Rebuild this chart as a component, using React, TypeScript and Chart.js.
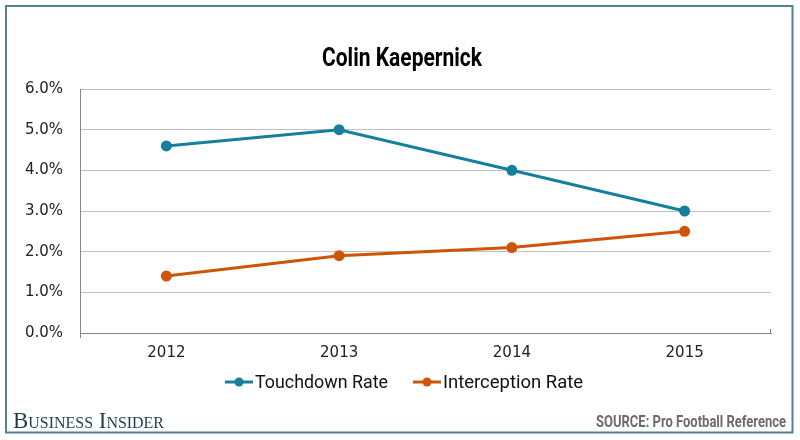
import React, { useEffect, useRef } from "react";
import { Chart, registerables } from "chart.js";

Chart.register(...registerables);

const years = ["2012", "2013", "2014", "2015"];
const touchdownRate = [4.6, 5.0, 4.0, 3.0];
const interceptionRate = [1.4, 1.9, 2.1, 2.5];
const seriesNames = ["Touchdown Rate", "Interception Rate"];
const seriesColors = ["#167f9c", "#cf5408"];
const titleText = "Colin Kaepernick";
const sourceText = "SOURCE: Pro Football Reference";
const brandText = "Business Insider";

const decorPlugin = {
  id: "decor",
  afterDraw(chart: any) {
    const ctx = chart.ctx;
    const area = chart.chartArea;
    ctx.save();
    // frame
    ctx.strokeStyle = "#557f95";
    ctx.lineWidth = 2;
    ctx.strokeRect(6, 6, 786.5, 426.5);
    // axis small ticks
    ctx.strokeStyle = "#868686";
    ctx.lineWidth = 1;
    ctx.beginPath();
    ctx.moveTo(area.left + 0.5, area.bottom);
    ctx.lineTo(area.left + 0.5, area.bottom + 5);
    ctx.moveTo(area.right - 0.5, area.bottom);
    ctx.lineTo(area.right - 0.5, area.bottom - 4);
    ctx.stroke();
    // title
    ctx.fillStyle = "#000";
    ctx.font = "bold 26px Roboto, sans-serif";
    ctx.textAlign = "center";
    ctx.textBaseline = "alphabetic";
    ctx.fillText(titleText, 402, 66, 160);
    // legend
    const legendY = 382;
    const items = [
      { x: 225, name: seriesNames[0], color: seriesColors[0], w: 133 },
      { x: 413, name: seriesNames[1], color: seriesColors[1], w: 140 },
    ];
    ctx.font = "19px Roboto, sans-serif";
    ctx.textAlign = "left";
    ctx.textBaseline = "middle";
    items.forEach((it) => {
      ctx.strokeStyle = it.color;
      ctx.lineWidth = 3;
      ctx.beginPath();
      ctx.moveTo(it.x, legendY);
      ctx.lineTo(it.x + 28, legendY);
      ctx.stroke();
      ctx.fillStyle = it.color;
      ctx.beginPath();
      ctx.arc(it.x + 14, legendY, 4.5, 0, Math.PI * 2);
      ctx.fill();
      ctx.fillStyle = "#111";
      ctx.fillText(it.name, it.x + 30, legendY + 1, it.w);
    });
    // footer brand
    ctx.fillStyle = "#1d3c52";
    ctx.font = "small-caps 23px 'Liberation Serif', serif";
    ctx.textAlign = "left";
    ctx.textBaseline = "alphabetic";
    ctx.fillText(brandText, 13, 428, 151);
    // source
    ctx.fillStyle = "#6b6b6b";
    ctx.font = "bold 16px Roboto, sans-serif";
    ctx.textAlign = "right";
    ctx.fillText(sourceText, 786, 427, 190);
    ctx.restore();
  },
};

export default function App() {
  const ref = useRef<HTMLCanvasElement | null>(null);
  useEffect(() => {
    if (!ref.current) return;
    const chart = new Chart(ref.current, {
      type: "line",
      data: {
        labels: years,
        datasets: [
          {
            label: seriesNames[0],
            data: touchdownRate,
            borderColor: seriesColors[0],
            backgroundColor: seriesColors[0],
            borderWidth: 3,
            pointRadius: 5.5,
            pointBackgroundColor: seriesColors[0],
            pointBorderWidth: 0,
            tension: 0,
          },
          {
            label: seriesNames[1],
            data: interceptionRate,
            borderColor: seriesColors[1],
            backgroundColor: seriesColors[1],
            borderWidth: 3,
            pointRadius: 5.5,
            pointBackgroundColor: seriesColors[1],
            pointBorderWidth: 0,
            tension: 0,
          },
        ],
      },
      options: {
        animation: false,
        responsive: false,
        layout: { padding: { left: 0, right: 29, top: 89, bottom: 77 } },
        plugins: {
          legend: { display: false },
          title: { display: false },
          tooltip: { enabled: false },
        },
        scales: {
          x: {
            offset: true,
            grid: { display: false, drawTicks: false },
            border: { display: true, color: "#868686", width: 1 },
            ticks: {
              color: "#222",
              padding: 11,
              font: { family: "'DejaVu Sans', sans-serif", size: 15 },
            },
            afterFit(scale: any) {
              scale.height = 30;
            },
          },
          y: {
            min: 0,
            max: 6,
            grid: { color: "#c0c0c0", lineWidth: 1, drawTicks: false },
            border: { display: true, color: "#868686", width: 1 },
            ticks: {
              stepSize: 1,
              color: "#222",
              padding: 17,
              font: { family: "'DejaVu Sans', sans-serif", size: 15 },
              callback: (v: any) => Number(v).toFixed(1) + "%",
            },
            afterFit(scale: any) {
              scale.width = 80;
            },
          },
        },
      },
      plugins: [decorPlugin],
    });
    return () => chart.destroy();
  }, []);
  return (
    <div style={{ position: "absolute", left: 0, top: 0, width: 800, height: 440, background: "#fff" }}>
      <canvas ref={ref} width={800} height={440} style={{ width: 800, height: 440 }} />
    </div>
  );
}
